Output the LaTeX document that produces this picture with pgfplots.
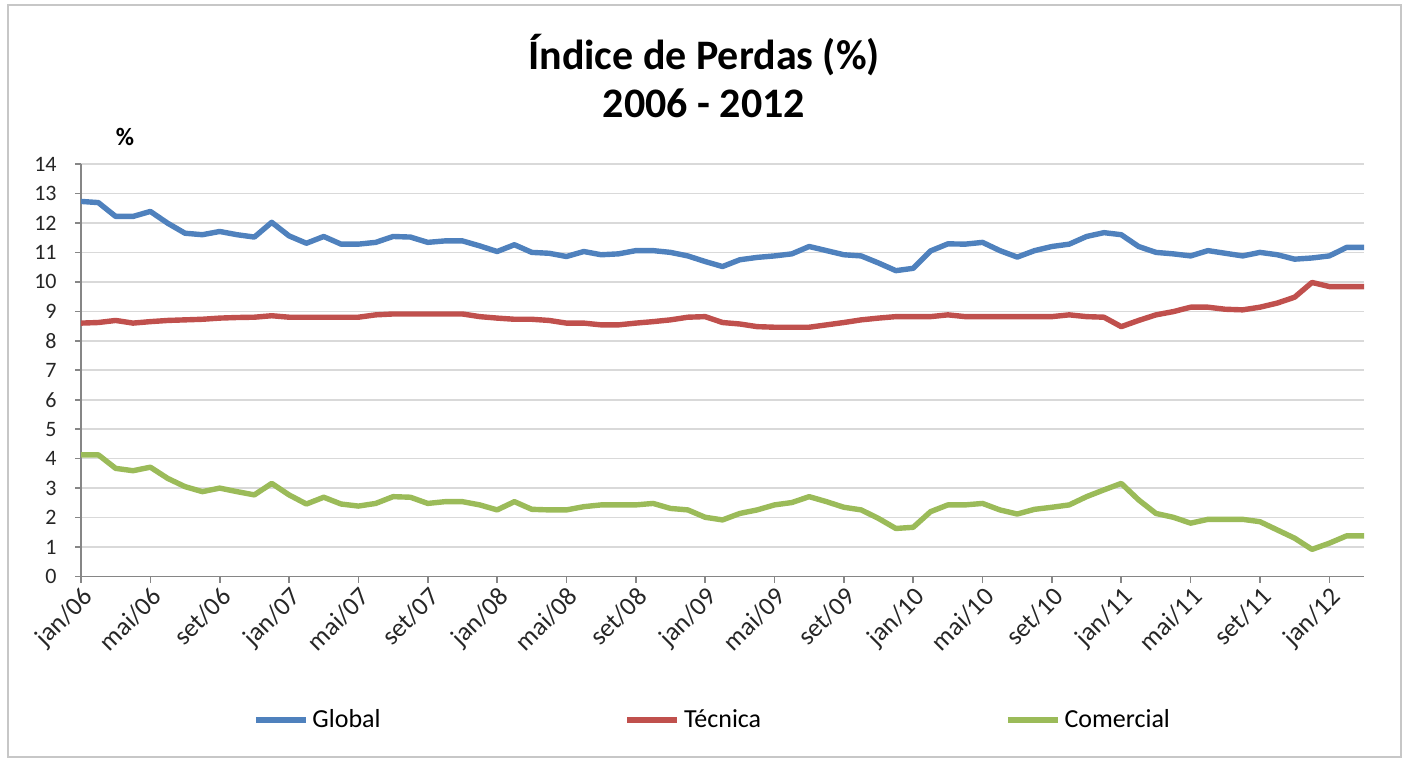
\documentclass[border=0pt]{standalone}
\usepackage{pgfplots}
\pgfplotsset{compat=1.18}
\usepackage{pgfplotstable}
\usepackage{fontspec}
\setmainfont{Carlito}
\definecolor{cblue}{HTML}{4F81BD}
\definecolor{cred}{HTML}{C0504D}
\definecolor{cgreen}{HTML}{9BBB59}
\definecolor{cgrid}{HTML}{D9D9D9}
\definecolor{caxis}{HTML}{868686}
\pgfplotstableread{
i G T C
0 12.73 8.60 4.13
1 12.69 8.62 4.13
2 12.22 8.69 3.67
3 12.22 8.60 3.59
4 12.39 8.65 3.71
5 11.99 8.69 3.33
6 11.65 8.71 3.05
7 11.60 8.73 2.88
8 11.71 8.77 3.00
9 11.60 8.79 2.88
10 11.52 8.80 2.77
11 12.02 8.85 3.16
12 11.56 8.80 2.77
13 11.31 8.80 2.46
14 11.54 8.80 2.69
15 11.28 8.80 2.46
16 11.28 8.80 2.39
17 11.34 8.88 2.48
18 11.54 8.91 2.71
19 11.52 8.91 2.69
20 11.34 8.91 2.48
21 11.39 8.91 2.54
22 11.39 8.91 2.54
23 11.22 8.82 2.43
24 11.03 8.77 2.26
25 11.26 8.73 2.54
26 11.00 8.73 2.28
27 10.97 8.69 2.26
28 10.86 8.60 2.26
29 11.03 8.60 2.37
30 10.92 8.54 2.43
31 10.95 8.54 2.43
32 11.06 8.60 2.43
33 11.06 8.65 2.48
34 11.00 8.71 2.31
35 10.88 8.80 2.26
36 10.69 8.82 2.01
37 10.52 8.62 1.92
38 10.75 8.57 2.14
39 10.83 8.48 2.26
40 10.88 8.46 2.43
41 10.95 8.46 2.51
42 11.20 8.46 2.71
43 11.06 8.54 2.54
44 10.92 8.62 2.35
45 10.88 8.71 2.26
46 10.64 8.77 1.97
47 10.38 8.82 1.63
48 10.46 8.82 1.67
49 11.05 8.82 2.20
50 11.29 8.88 2.43
51 11.28 8.82 2.43
52 11.34 8.82 2.48
53 11.06 8.82 2.26
54 10.84 8.82 2.12
55 11.06 8.82 2.28
56 11.20 8.82 2.35
57 11.28 8.88 2.43
58 11.54 8.82 2.71
59 11.67 8.80 2.94
60 11.60 8.48 3.16
61 11.20 8.69 2.60
62 11.00 8.88 2.14
63 10.95 8.99 2.01
64 10.88 9.14 1.81
65 11.06 9.14 1.94
66 10.97 9.07 1.94
67 10.88 9.05 1.94
68 11.00 9.14 1.86
69 10.92 9.28 1.58
70 10.77 9.48 1.30
71 10.81 9.98 0.92
72 10.88 9.84 1.13
73 11.17 9.84 1.38
74 11.17 9.84 1.38
}\data
\begin{document}
\begin{tikzpicture}
\path[use as bounding box] (0,0) rectangle (704pt,380pt);
\draw[cgrid!80!gray, line width=0.8pt] (4pt,1.5pt) rectangle (700.5pt,377.5pt);
\node[font=\fontsize{21}{25}\selectfont\bfseries] at (352pt,352.5pt) {Índice de Perdas (\%)};
\node[font=\fontsize{21}{25}\selectfont\bfseries] at (352pt,328.5pt) {2006 - 2012};
\node[font=\fontsize{12.5}{15}\selectfont\bfseries] at (62.5pt,311.5pt) {\%};
\begin{axis}[
  scale only axis,
  width=641.5pt, height=206.25pt,
  at={(40.5pt,91.75pt)}, anchor=south west,
  xmin=0, xmax=74, ymin=0, ymax=14,
  ytick={0,1,...,14},
  xtick={0,4,...,72},
  xticklabels={jan/06,mai/06,set/06,jan/07,mai/07,set/07,jan/08,mai/08,set/08,jan/09,mai/09,set/09,jan/10,mai/10,set/10,jan/11,mai/11,set/11,jan/12},
  axis lines*=left,
  axis line style={caxis, line width=0.8pt},
  ymajorgrids,
  grid style={cgrid, line width=0.8pt},
  tick align=outside,
  major tick length=3pt,
  tick style={caxis, line width=0.8pt},
  /pgf/number format/assume math mode=true,
  tick label style={text=black!85},
  x tick label style={font=\fontsize{13}{15}\selectfont, rotate=45, anchor=north east, inner sep=1pt},
  y tick label style={font=\fontsize{11}{13}\selectfont, inner sep=1pt, xshift=-8pt},
  legend columns=3,
  legend style={draw=none, fill=none, at={(0.493,-0.348)}, anchor=center,
    font=\fontsize{13}{15}\selectfont,
    /tikz/every even column/.append style={column sep=120pt}},
  legend image code/.code={\draw[#1, line cap=butt] (0pt,0pt) -- (25pt,0pt);},
  every axis plot/.append style={line width=2.7pt, line join=round},
]
\addplot[cblue] table[x=i, y=G] {\data};
\addlegendentry{Global}
\addplot[cred] table[x=i, y=T] {\data};
\addlegendentry{Técnica}
\addplot[cgreen] table[x=i, y=C] {\data};
\addlegendentry{Comercial}
\end{axis}
\end{tikzpicture}
\end{document}
